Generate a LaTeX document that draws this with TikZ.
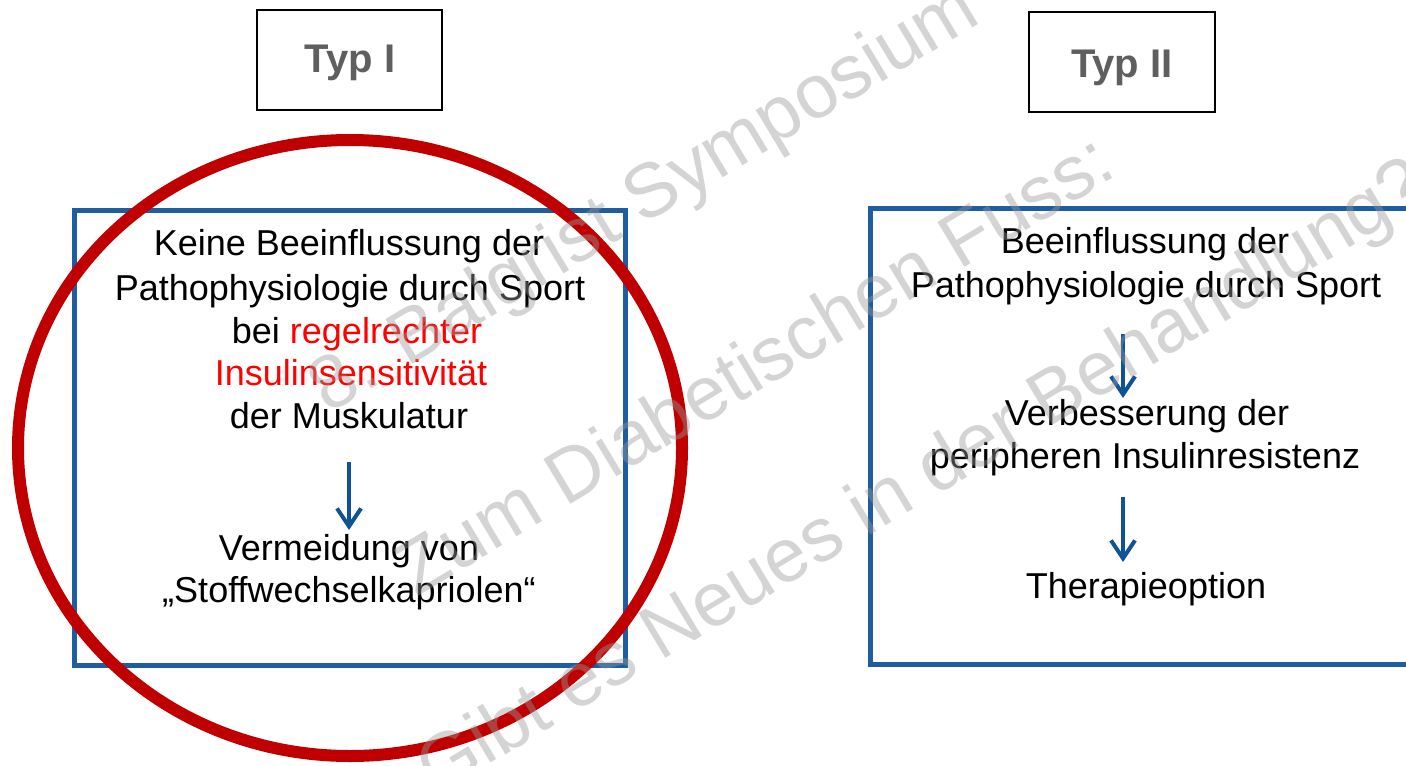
\documentclass[tikz,border=0pt]{standalone}
\usepackage{fontspec}
\setmainfont{Liberation Sans}
\usetikzlibrary{arrows.meta}
\definecolor{boxblue}{RGB}{30,94,160}
\definecolor{arrblue}{RGB}{16,82,150}
\definecolor{circred}{RGB}{192,0,0}
\definecolor{txtred}{RGB}{255,0,0}
\definecolor{typgray}{RGB}{95,95,95}
\definecolor{wmgray}{RGB}{153,153,153}
\begin{document}
\begin{tikzpicture}[x=0.5pt,y=-0.5pt,
  typbox/.style={draw=black,line width=1pt},
  bluebox/.style={draw=boxblue,line width=2.5pt},
  typtext/.style={font=\fontsize{20}{24}\selectfont\bfseries,text=typgray,anchor=base,inner sep=0pt},
  body/.style={font=\fontsize{18}{21}\selectfont,anchor=base,inner sep=0pt},
  flow/.style={draw=arrblue,line width=2pt,-{Straight Barb[length=9pt,width=12pt]}},
  wm/.style={font=\fontsize{38}{44}\selectfont,text=wmgray,text opacity=0.42,rotate=31,anchor=base,inner sep=0pt}]
\useasboundingbox (0,0) rectangle (1406,765);
\fill[white] (0,0) rectangle (1406,765);
% header boxes
\draw[typbox] (257,10) rectangle (442,110);
\node[typtext] (t1) at (350,73) {Typ I};
\draw[typbox] (1029,12) rectangle (1215,112);
\node[typtext] (t2) at (1122,77) {Typ II};
% blue boxes
\draw[bluebox] (74,210) rectangle (625,665);
\draw[bluebox] (1412,208) -- (870,208) -- (870,664) -- (1412,664);
% left text
\node[body] (l1) at (349,255) {Keine Beeinflussung der};
\node[body] (l2) at (350,300) {Pathophysiologie durch Sport};
\node[body] (l3) at (357,343) {bei \textcolor{txtred}{regelrechter}};
\node[body,text=txtred] (l4) at (351,385) {Insulinsensitivität};
\node[body] (l5) at (349,428) {der Muskulatur};
\node[body] (l6) at (349,560) {Vermeidung von};
\node[body] (l7) at (349,602) {„Stoffwechselkapriolen“};
\coordinate (a1s) at (349,462);
\coordinate (a1e) at (349,530);
\draw[flow] (a1s) -- (a1e);
% right text
\node[body] (r1) at (1145,253) {Beeinflussung der};
\node[body] (r2) at (1146,297) {Pathophysiologie durch Sport};
\node[body] (r3) at (1147,425) {Verbesserung der};
\node[body] (r4) at (1145,468) {peripheren Insulinresistenz};
\node[body] (r5) at (1146,598) {Therapieoption};
\coordinate (a2s) at (1123,334);
\coordinate (a2e) at (1123,398);
\coordinate (a3s) at (1123,497);
\coordinate (a3e) at (1123,562);
\draw[flow] (a2s) -- (a2e);
\draw[flow] (a3s) -- (a3e);
% red circle
\draw[circred,line width=6pt] (350,448) ellipse [x radius=332, y radius=308];
% watermark
\node[wm] (w1) at (656,218) {8. Balgrist Symposium};
\node[wm] (w2) at (768,386) {Zum Diabetischen Fuss:};
\node[wm] (w3) at (934,497) {Gibt es Neues in der Behandlung?};
\end{tikzpicture}
\end{document}
